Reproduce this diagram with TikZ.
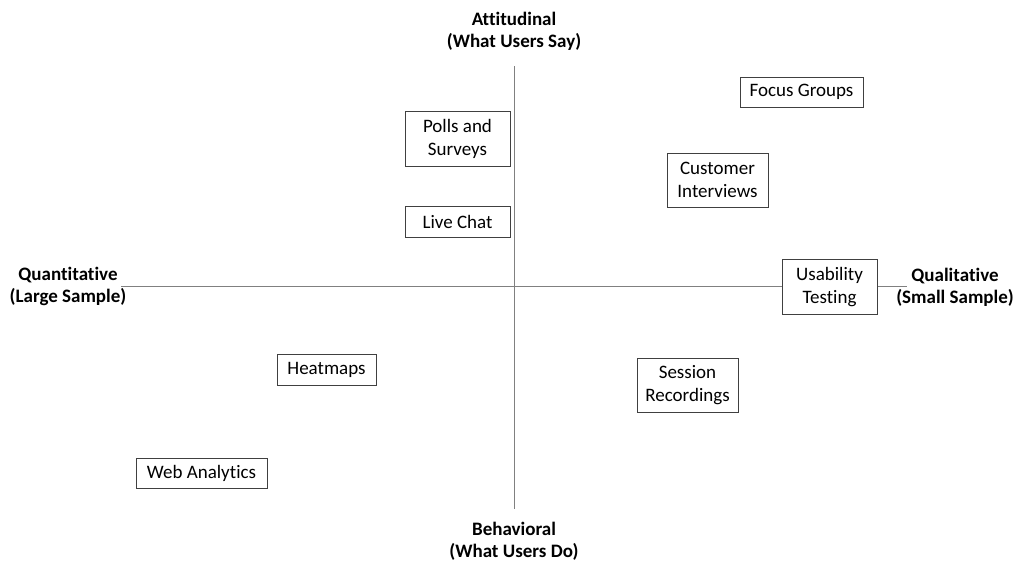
\documentclass[tikz,border=0pt]{standalone}
\usepackage{fontspec}
\setmainfont{Carlito}[Ligatures=NoCommon]

\begin{document}
\begin{tikzpicture}[x=1pt,y=-1pt,
    method/.style={rectangle,draw=black!75,fill=white,line width=0.7pt,
      align=center,inner sep=0pt,font=\fontsize{19}{23}\selectfont},
    axis label/.style={align=center,inner sep=0pt,
      font=\fontsize{19}{22}\selectfont\bfseries},
    axis/.style={draw=black!50,line width=0.9pt}]

    \fill[white] (0,0) rectangle (1024,576);
    \useasboundingbox (0,0) rectangle (1024,576);

    \node[axis label] (ATT) at (514,31) {Attitudinal\\(What Users Say)};
    \node[axis label] (BEH) at (514,541) {Behavioral\\(What Users Do)};
    \node[axis label] (QNT) at (68,286) {Quantitative\\(Large Sample)};
    \node[axis label] (QLT) at (955,287) {Qualitative\\(Small Sample)};

    \coordinate (N) at (514,66);
    \coordinate (S) at (514,509);
    \coordinate (W) at (121,286);
    \coordinate (E) at (907,286);
    \path[axis] (N) -- (S) (W) -- (E);

    \node[method,minimum width=105pt,minimum height=55pt] (PS) at (457.5,138.5) {Polls and\\Surveys};
    \node[method,minimum width=105pt,minimum height=31pt] (LC) at (457.5,221.5) {Live Chat};
    \node[method,minimum width=123pt,minimum height=30pt] (FG) at (801.5,92) {Focus Groups};
    \node[method,minimum width=101pt,minimum height=54pt] (CI) at (717.5,180) {Customer\\Interviews};
    \node[method,minimum width=95pt,minimum height=55pt] (UT) at (829.5,287) {Usability\\Testing};
    \node[method,minimum width=99pt,minimum height=31pt] (HM) at (326.5,369.5) {Heatmaps};
    \node[method,minimum width=101pt,minimum height=54pt] (SR) at (687.5,385) {Session\\Recordings};
    \node[method,minimum width=131pt,minimum height=30pt] (WA) at (201.5,473) {Web Analytics};
\end{tikzpicture}
\end{document}
